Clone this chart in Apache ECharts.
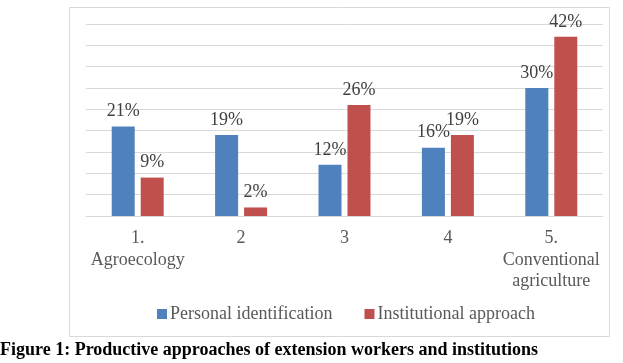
<!DOCTYPE html>
<html>
<head>
<meta charset="utf-8">
<script src="https://cdn.jsdelivr.net/npm/echarts@6/dist/echarts.min.js"></script>
<style>
  html, body { margin: 0; padding: 0; background: #fff; }
  #chart { width: 623px; height: 363px; }
</style>
</head>
<body>
<div id="chart"></div>
<script>
var categories = ['1.\nAgroecology', '2', '3', '4', '5.\nConventional\nagriculture'];
var seriesNames = ['Personal identification', 'Institutional approach'];
var personal = [21, 19, 12, 16, 30];
var institutional = [9, 2, 26, 19, 42];
var caption = 'Figure 1: Productive approaches of extension workers and institutions';

var serif = '"Liberation Serif", "Times New Roman", serif';

var chart = echarts.init(document.getElementById('chart'));

var labelCfg = {
    show: true,
    position: 'top',
    distance: 6,
    formatter: '{c}%',
    fontFamily: serif,
    fontSize: 18,
    color: '#404040'
};

var option = {
    animation: false,
    title: {
        text: caption,
        left: 0,
        top: 341,
        padding: 0,
        textStyle: { fontFamily: serif, fontSize: 18, fontWeight: 'bold', color: '#000' }
    },
    graphic: [{
        type: 'rect',
        shape: { x: 69.5, y: 7.5, width: 540, height: 329 },
        style: { fill: 'none', stroke: '#d9d9d9', lineWidth: 1 },
        silent: true
    }],
    legend: {
        data: seriesNames,
        left: 157,
        top: 305,
        padding: 0,
        icon: 'rect',
        itemWidth: 10,
        itemHeight: 10,
        itemGap: 32,
        textStyle: { fontFamily: serif, fontSize: 18, color: '#595959', padding: [0, 0, 0, -2] }
    },
    grid: { left: 86, right: 20, top: 24, bottom: 147 },
    xAxis: {
        type: 'category',
        data: categories,
        axisLine: { lineStyle: { color: '#d9d9d9' } },
        axisTick: { show: false },
        axisLabel: {
            interval: 0,
            margin: 12,
            fontFamily: serif,
            fontSize: 18,
            lineHeight: 21.5,
            color: '#595959'
        }
    },
    yAxis: {
        type: 'value',
        min: 0,
        max: 45,
        interval: 5,
        axisLabel: { show: false },
        axisLine: { show: false },
        axisTick: { show: false },
        splitLine: { lineStyle: { color: '#d9d9d9' } }
    },
    series: [
        {
            name: seriesNames[0],
            type: 'bar',
            data: personal,
            barWidth: 23,
            barGap: '26%',
            itemStyle: { color: '#4F81BD' },
            label: labelCfg
        },
        {
            name: seriesNames[1],
            type: 'bar',
            data: institutional,
            barWidth: 23,
            itemStyle: { color: '#C0504D' },
            label: labelCfg
        }
    ]
};

chart.setOption(option);
</script>
</body>
</html>
